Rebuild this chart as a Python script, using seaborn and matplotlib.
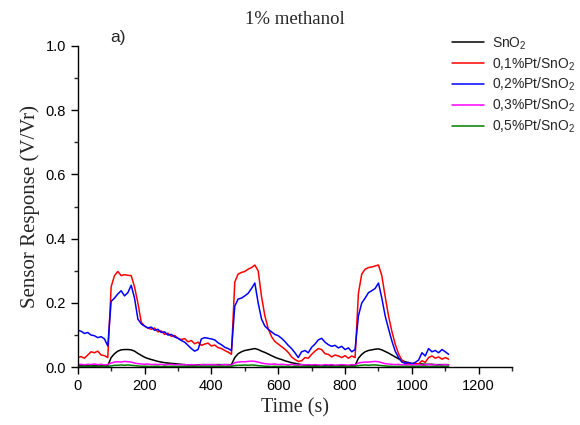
import numpy as np
import pandas as pd
import matplotlib
matplotlib.use("Agg")
import matplotlib.pyplot as plt
import seaborn as sns
from matplotlib.ticker import MultipleLocator

# sampling grid (s), one reading every 10 s
time_s = np.arange(0, 1120, 10)

series_names = ["SnO$_2$", "0,1%Pt/SnO$_2$", "0,2%Pt/SnO$_2$",
                "0,3%Pt/SnO$_2$", "0,5%Pt/SnO$_2$"]
series_colors = ["#000000", "#ff0000", "#0000ff", "#ff00ff", "#008000"]

sno2 = [
    0.004, 0.004, 0.005, 0.004, 0.004, 0.005, 0.004, 0.004, 0.004, 0.005,
    0.030, 0.042, 0.050, 0.054, 0.055, 0.055, 0.054, 0.050, 0.043, 0.037,
    0.031, 0.027, 0.024, 0.021, 0.018, 0.016, 0.014, 0.013, 0.012, 0.011,
    0.010, 0.009, 0.008, 0.007, 0.007, 0.007, 0.007, 0.008, 0.008, 0.008,
    0.008, 0.008, 0.008, 0.008, 0.008, 0.008, 0.008, 0.030, 0.042, 0.048,
    0.052, 0.054, 0.056, 0.058, 0.055, 0.050, 0.046, 0.041, 0.036, 0.031,
    0.027, 0.024, 0.020, 0.017, 0.014, 0.012, 0.010, 0.008, 0.007, 0.006,
    0.005, 0.005, 0.005, 0.005, 0.005, 0.005, 0.005, 0.005, 0.005, 0.005,
    0.005, 0.005, 0.005, 0.005, 0.028, 0.040, 0.048, 0.052, 0.054, 0.056,
    0.057, 0.054, 0.049, 0.044, 0.038, 0.032, 0.026, 0.021, 0.017, 0.014,
    0.012, 0.011, 0.010, 0.010, 0.009, 0.009, 0.009, 0.008, 0.008, 0.008,
    0.008, 0.008,
]

pt01 = [
    0.030, 0.033, 0.028, 0.038, 0.048, 0.045, 0.050, 0.038, 0.036, 0.030,
    0.250, 0.285, 0.298, 0.285, 0.288, 0.286, 0.285, 0.250, 0.200, 0.140,
    0.128, 0.122, 0.118, 0.122, 0.110, 0.113, 0.102, 0.106, 0.096, 0.099,
    0.090, 0.086, 0.089, 0.079, 0.083, 0.073, 0.078, 0.068, 0.072, 0.075,
    0.066, 0.069, 0.061, 0.058, 0.052, 0.047, 0.040, 0.265, 0.290, 0.295,
    0.298, 0.305, 0.310, 0.318, 0.300, 0.220, 0.160, 0.120, 0.095, 0.080,
    0.072, 0.064, 0.056, 0.046, 0.032, 0.024, 0.018, 0.020, 0.030, 0.028,
    0.040, 0.050, 0.058, 0.055, 0.042, 0.040, 0.032, 0.038, 0.035, 0.030,
    0.036, 0.028, 0.035, 0.030, 0.230, 0.290, 0.305, 0.310, 0.312, 0.315,
    0.318, 0.285, 0.220, 0.160, 0.112, 0.072, 0.042, 0.022, 0.012, 0.010,
    0.008, 0.012, 0.010, 0.020, 0.015, 0.030, 0.035, 0.028, 0.032, 0.025,
    0.030, 0.025,
]

pt02 = [
    0.115, 0.112, 0.105, 0.108, 0.100, 0.098, 0.092, 0.095, 0.088, 0.066,
    0.205, 0.215, 0.228, 0.238, 0.222, 0.232, 0.255, 0.215, 0.150, 0.135,
    0.128, 0.122, 0.125, 0.115, 0.118, 0.108, 0.110, 0.100, 0.102, 0.094,
    0.090, 0.083, 0.078, 0.068, 0.058, 0.050, 0.055, 0.088, 0.092, 0.090,
    0.088, 0.085, 0.076, 0.070, 0.062, 0.058, 0.052, 0.190, 0.212, 0.215,
    0.222, 0.230, 0.245, 0.262, 0.200, 0.150, 0.128, 0.118, 0.110, 0.102,
    0.098, 0.090, 0.080, 0.068, 0.058, 0.045, 0.030, 0.048, 0.052, 0.045,
    0.062, 0.072, 0.085, 0.090, 0.078, 0.070, 0.065, 0.068, 0.060, 0.065,
    0.055, 0.060, 0.048, 0.055, 0.160, 0.200, 0.215, 0.232, 0.238, 0.245,
    0.262, 0.215, 0.160, 0.120, 0.082, 0.050, 0.030, 0.016, 0.012, 0.015,
    0.010, 0.015, 0.022, 0.045, 0.035, 0.058, 0.048, 0.052, 0.045, 0.055,
    0.048, 0.040,
]

pt03 = [
    0.008, 0.009, 0.007, 0.009, 0.008, 0.010, 0.008, 0.009, 0.007, 0.008,
    0.013, 0.016, 0.017, 0.016, 0.018, 0.017, 0.016, 0.013, 0.011, 0.010,
    0.009, 0.010, 0.008, 0.009, 0.008, 0.009, 0.007, 0.008, 0.009, 0.007,
    0.008, 0.007, 0.008, 0.007, 0.008, 0.007, 0.006, 0.008, 0.007, 0.008,
    0.007, 0.008, 0.006, 0.007, 0.008, 0.007, 0.006, 0.014, 0.016, 0.017,
    0.017, 0.018, 0.019, 0.018, 0.016, 0.013, 0.011, 0.010, 0.009, 0.010,
    0.008, 0.009, 0.008, 0.007, 0.009, 0.007, 0.006, 0.008, 0.007, 0.008,
    0.007, 0.008, 0.007, 0.006, 0.008, 0.007, 0.008, 0.006, 0.007, 0.008,
    0.007, 0.006, 0.008, 0.007, 0.013, 0.015, 0.016, 0.016, 0.017, 0.018,
    0.017, 0.014, 0.011, 0.010, 0.009, 0.008, 0.009, 0.007, 0.008, 0.007,
    0.008, 0.007, 0.008, 0.006, 0.007, 0.008, 0.007, 0.008, 0.006, 0.007,
    0.008, 0.007,
]

pt05 = [
    0.003, 0.002, 0.003, 0.002, 0.003, 0.003, 0.002, 0.003, 0.002, 0.003,
    0.004, 0.006, 0.006, 0.007, 0.006, 0.007, 0.006, 0.005, 0.004, 0.003,
    0.003, 0.003, 0.002, 0.003, 0.003, 0.002, 0.003, 0.002, 0.003, 0.002,
    0.003, 0.002, 0.003, 0.002, 0.002, 0.003, 0.002, 0.003, 0.002, 0.003,
    0.002, 0.003, 0.002, 0.003, 0.002, 0.002, 0.003, 0.005, 0.006, 0.006,
    0.007, 0.006, 0.007, 0.006, 0.005, 0.004, 0.003, 0.003, 0.002, 0.003,
    0.002, 0.003, 0.002, 0.003, 0.002, 0.003, 0.002, 0.002, 0.003, 0.002,
    0.003, 0.002, 0.003, 0.002, 0.003, 0.002, 0.002, 0.003, 0.002, 0.003,
    0.002, 0.003, 0.002, 0.003, 0.005, 0.006, 0.007, 0.006, 0.007, 0.007,
    0.006, 0.005, 0.004, 0.003, 0.003, 0.002, 0.003, 0.002, 0.003, 0.002,
    0.003, 0.002, 0.003, 0.002, 0.003, 0.002, 0.002, 0.003, 0.002, 0.003,
    0.002, 0.003,
]

frames = []
for name, vals in zip(series_names, [sno2, pt01, pt02, pt03, pt05]):
    frames.append(pd.DataFrame({"time": time_s, "response": vals, "sample": name}))
df = pd.concat(frames, ignore_index=True)

sns.set_style("ticks")
plt.rcParams["font.family"] = ["Liberation Sans", "DejaVu Sans"]
plt.rcParams["mathtext.default"] = "regular"

fig = plt.figure(figsize=(5.8, 4.25), dpi=100)
ax = fig.add_axes([0.134, 0.136, 0.749, 0.756])

sns.lineplot(data=df, x="time", y="response", hue="sample",
             hue_order=series_names, palette=dict(zip(series_names, series_colors)),
             linewidth=1.1, ax=ax, legend=True)

ax.set_xlim(0, 1300)
ax.set_ylim(0, 1.0)
ax.xaxis.set_major_locator(MultipleLocator(200))
ax.xaxis.set_minor_locator(MultipleLocator(100))
ax.yaxis.set_major_locator(MultipleLocator(0.2))
ax.yaxis.set_minor_locator(MultipleLocator(0.1))
ax.tick_params(which="major", direction="out", length=5, width=1, labelsize=10.5, colors="black")
ax.tick_params(which="minor", direction="out", length=3, width=1)
sns.despine(ax=ax)
for s in ("left", "bottom"):
    ax.spines[s].set_color("black")
    ax.spines[s].set_linewidth(1)

ax.set_xlabel("Time (s)", family="Liberation Serif", fontsize=14.5)
ax.set_ylabel("Sensor Response (V/Vr)", family="Liberation Serif", fontsize=15)
ax.set_title("1% methanol", family="Liberation Serif", fontsize=13.5, pad=16)
ax.text(0.075, 1.025, "a)", transform=ax.transAxes, fontsize=12.5, va="center")

ax.legend(loc="upper left", bbox_to_anchor=(0.77, 0.93), bbox_transform=fig.transFigure,
          frameon=False, fontsize=10, handlelength=2.3, labelspacing=0.25,
          handletextpad=0.6, borderaxespad=0)

fig.savefig("out.png", dpi=100)
plt.close(fig)
